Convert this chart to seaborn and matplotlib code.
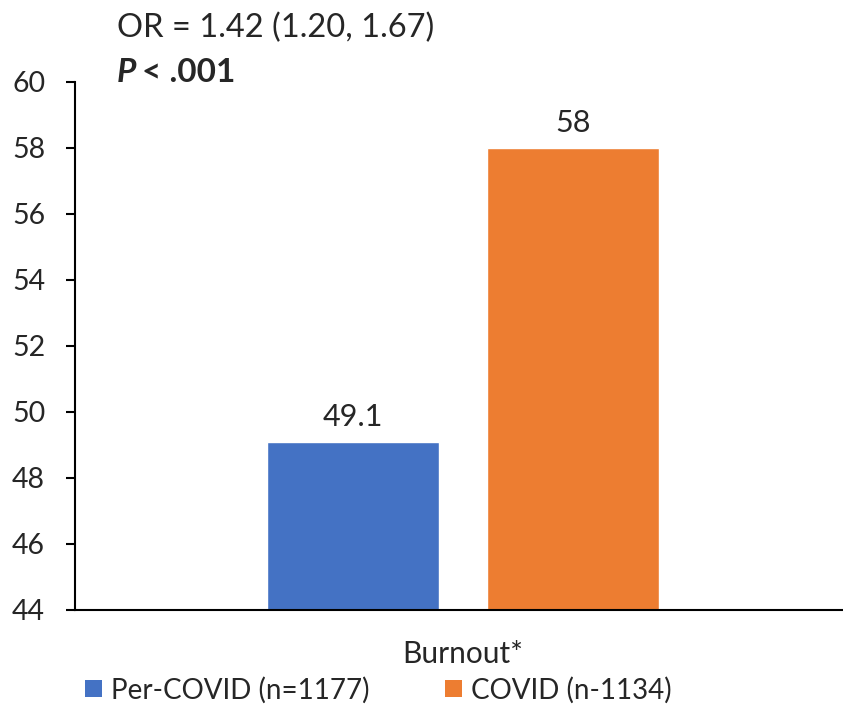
import matplotlib
matplotlib.use("Agg")
import matplotlib.pyplot as plt
import seaborn as sns
import pandas as pd
from matplotlib.patches import Patch

categories = ["Burnout*"]
series = ["Per-COVID (n=1177)", "COVID (n-1134)"]
values = [49.1, 58.0]
value_labels = ["49.1", "58"]
colors = ["#4472C4", "#ED7D31"]
yticks = [44, 46, 48, 50, 52, 54, 56, 58, 60]
title_line1 = "OR = 1.42 (1.20, 1.67)"

df = pd.DataFrame({"cat": categories * len(series), "series": series, "value": values})

sns.set_style("white")
plt.rcParams["font.family"] = ["Lato", "DejaVu Sans"]

fig = plt.figure(figsize=(8.43, 7.06), dpi=100)
W, H = 843, 706
ax = fig.add_axes([75 / W, 1 - 610 / H, (843 - 75) / W, (610 - 82) / H])

sns.barplot(data=df, x="cat", y="value", hue="series", palette=colors,
            width=0.8, gap=0.214, ax=ax, legend=False, saturation=1)

ax.set_ylim(44, 60)
ax.set_yticks(yticks)
ax.set_xlim(-0.7055, 0.691)
ax.set_xlabel("")
ax.set_ylabel("")
for s in ["top", "right"]:
    ax.spines[s].set_visible(False)
for s in ["left", "bottom"]:
    ax.spines[s].set_color("black")
    ax.spines[s].set_linewidth(1.5)
ax.tick_params(axis="y", which="major", left=True, length=6.5, width=1.5,
               direction="out", labelsize=20.5, pad=15, color="black")
ax.tick_params(axis="x", bottom=False, labelsize=21.5, pad=18)

for cont, lab in zip(ax.containers, value_labels):
    ax.bar_label(cont, labels=[lab], padding=8, fontsize=22)

fig.text(117 / W, 1 - 28 / H, title_line1, fontsize=23.5, va="center", ha="left")
fig.text(117 / W, 1 - 72 / H, "P", fontsize=24, va="center", ha="left",
         fontweight="bold", fontstyle="italic")
fig.text(142 / W, 1 - 72 / H, "< .001", fontsize=24, va="center", ha="left",
         fontweight="bold")

handles = [Patch(facecolor=c, edgecolor="none") for c in colors]
fig.legend(handles, series, loc="center left", bbox_to_anchor=(85 / W, 1 - 690 / H),
           ncol=2, frameon=False, fontsize=20, handlelength=0.6, handleheight=0.6,
           handletextpad=0.35, columnspacing=2.7, borderaxespad=0, borderpad=0)

fig.savefig("out.png", dpi=100)
